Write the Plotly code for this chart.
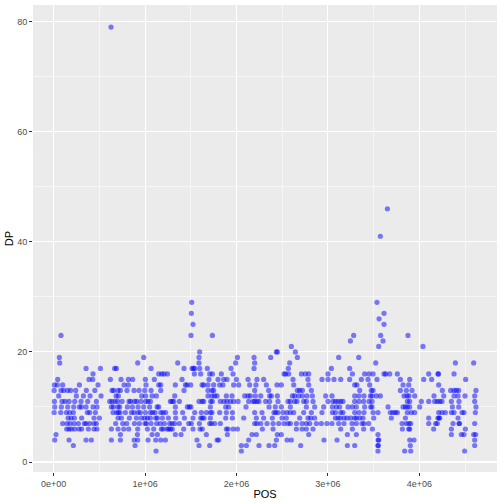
import plotly.graph_objects as go

# Positions in kb (1 kb = 1e3 bp), grouped by read depth (DP)
dp_levels = [2, 3, 4, 5, 6, 7, 8, 9, 10, 11, 12, 13, 14, 15, 16, 17, 18, 19,
             20, 21, 22, 23, 25, 26, 27, 29, 41, 46, 79]

pos_dp79 = [627]
pos_dp46 = [3651]
pos_dp41 = [3574]
pos_dp29 = [1510, 3537]
pos_dp27 = [1506, 3614]
pos_dp26 = [3560]
pos_dp25 = [1524, 3614]
pos_dp23 = [80, 1502, 1736, 3282, 3577, 3876]
pos_dp22 = [3246, 3603]
pos_dp21 = [2600, 3556, 4040]
pos_dp20 = [1597, 2436, 2447, 2644]
pos_dp19 = [62, 985, 1590, 2010, 2192, 2374, 2666, 3118, 3337]
pos_dp18 = [66, 919, 1357, 1590, 1991, 2199, 2582, 3523, 4395, 4595]
pos_dp17 = [354, 511, 667, 686, 1065, 1426, 1514, 1528, 1543, 1597, 1681, 1940,
            2192, 2567, 3038, 3238]
pos_dp16 = [430, 1149, 1182, 1207, 1244, 1539, 1608, 1707, 1736, 1834, 1962, 2520,
            2538, 2571, 2710, 2753, 2790, 3001, 3268, 3402, 3450, 3494, 3614, 3632,
            3676, 3760, 4103, 4204, 4210, 4380]
pos_dp15 = [44, 386, 427, 620, 737, 817, 864, 1003, 1101, 1404, 1699, 1798, 1860,
            1896, 1999, 2126, 2224, 2297, 2618, 2782, 2935, 3001, 3067, 3140, 3238,
            3366, 3439, 3537, 3793, 3895, 4048, 4135, 4507]
pos_dp14 = [8, 40, 98, 281, 485, 770, 817, 1010, 1149, 1171, 1331, 1441, 1459, 1499,
            1623, 1641, 1688, 1750, 1816, 1852, 1969, 2024, 2144, 2213, 2327, 2443,
            2491, 2626, 2790, 3293, 3318, 3457, 3822, 3884, 4212]
pos_dp13 = [5, 80, 109, 153, 186, 241, 357, 450, 638, 656, 704, 730, 802, 879, 934,
            996, 1065, 1171, 1426, 1688, 1732, 1750, 2199, 2352, 2666, 2691, 2721,
            2819, 3348, 3475, 3494, 3793, 3858, 3920, 4252, 4343, 4380, 4405, 4431, 4620]
pos_dp12 = [55, 248, 325, 398, 518, 682, 708, 963, 1006, 1076, 1123, 1324, 1688, 1732,
            1761, 1787, 1889, 1951, 2090, 2126, 2152, 2206, 2265, 2363, 2381, 2447,
            2611, 2637, 2680, 2721, 2771, 2830, 2976, 3045, 3293, 3340, 3395, 3465,
            3483, 3530, 3574, 3833, 3866, 3887, 3950, 4161, 4267, 4380, 4424, 4500, 4606]
pos_dp11 = [8, 91, 124, 168, 230, 299, 372, 467, 613, 638, 671, 700, 748, 824, 842,
            886, 908, 955, 1006, 1032, 1058, 1277, 1295, 1313, 1375, 1590, 1623, 1641,
            1718, 1736, 1823, 1863, 1896, 1933, 1969, 2017, 2133, 2181, 2199, 2224,
            2246, 2319, 2363, 2454, 2564, 2589, 2637, 2662, 2735, 2764, 2837, 3001,
            3056, 3082, 3111, 3140, 3165, 3293, 3340, 3391, 3450, 3483, 3869, 3895,
            4022, 4103, 4168, 4197, 4223, 4248, 4351, 4434, 4606]
pos_dp10 = [11, 84, 153, 219, 281, 303, 354, 430, 474, 631, 653, 704, 722, 806, 861,
            923, 985, 1050, 1131, 1149, 1331, 1462, 1484, 1502, 1714, 1882, 1915, 2104,
            2356, 2425, 2491, 2589, 2764, 2855, 2954, 3049, 3093, 3129, 3220, 3268,
            3311, 3402, 3468, 3483, 3658, 3822, 3848, 3869, 3895, 4004, 4362, 4431, 4620]
pos_dp9 = [5, 77, 139, 175, 215, 368, 394, 456, 649, 689, 708, 726, 784, 850, 879,
           923, 948, 1003, 1058, 1083, 1109, 1171, 1196, 1225, 1331, 1411, 1543, 1615,
           1670, 1714, 1732, 1816, 1889, 1955, 2199, 2279, 2410, 2429, 2454, 2509,
           2553, 2589, 2626, 2735, 2819, 2935, 3049, 3082, 3140, 3165, 3293, 3340,
           3395, 3494, 3548, 3683, 3712, 3738, 3760, 3869, 3913, 3950, 4212, 4248,
           4285, 4351, 4380, 4467, 4489, 4613]
pos_dp8 = [157, 190, 226, 306, 441, 500, 704, 741, 828, 905, 959, 996, 1025, 1058,
           1116, 1134, 1189, 1255, 1335, 1430, 1524, 1608, 1626, 1645, 1714, 1882,
           1955, 2079, 2217, 2297, 2392, 2498, 2545, 2691, 2782, 2812, 2855, 3082,
           3111, 3137, 3176, 3209, 3249, 3293, 3311, 3348, 3384, 3501, 3694, 3848,
           4103, 4204, 4215, 4223, 4424]
pos_dp7 = [98, 146, 179, 223, 270, 336, 354, 394, 441, 467, 678, 755, 799, 883, 937,
           999, 1014, 1065, 1127, 1167, 1211, 1269, 1295, 1324, 1375, 1477, 1506, 1594,
           1707, 1725, 1761, 1823, 2199, 2224, 2265, 2334, 2400, 2462, 2520, 2564,
           2589, 2655, 2717, 2764, 2801, 2874, 2928, 2990, 3045, 3118, 3176, 3264,
           3311, 3373, 3395, 3446, 3811, 3858, 3887, 3906, 4103, 4179, 4197, 4369,
           4434, 4440, 4606]
pos_dp6 = [142, 168, 193, 230, 277, 306, 379, 441, 474, 631, 704, 766, 821, 919, 1025,
           1094, 1178, 1196, 1240, 1258, 1277, 1298, 1422, 1524, 1601, 1626, 1889, 1907,
           1962, 2010, 2283, 2400, 2655, 2717, 2764, 2837, 3140, 3268, 3391, 3487,
           3815, 3884, 3895, 4157, 4351, 4504]
pos_dp5 = [25, 730, 916, 1076, 1134, 1331, 1393, 1670, 1900, 2170, 2217, 2447, 2491,
           2790, 3213, 3311, 3548, 4351, 4460, 4489, 4595, 4617]
pos_dp4 = [11, 168, 354, 412, 631, 730, 880, 919, 1032, 1116, 1171, 1222, 1568, 1787,
           1805, 2133, 2436, 2553, 2600, 2957, 3100, 3550, 3556, 3895, 3942, 4606]
pos_dp3 = [215, 890, 1590, 1707, 2053, 2108, 2246, 2356, 2418, 2702, 3213, 3293, 3548,
           3550, 3902, 4606]
pos_dp2 = [1120, 2053, 3548, 3840, 3906, 4496]

x_tick_vals = [0, 1000, 2000, 3000, 4000]
x_tick_text = ["0e+00", "1e+06", "2e+06", "3e+06", "4e+06"]
y_tick_vals = [0, 20, 40, 60, 80]

groups = {
    2: pos_dp2, 3: pos_dp3, 4: pos_dp4, 5: pos_dp5, 6: pos_dp6, 7: pos_dp7,
    8: pos_dp8, 9: pos_dp9, 10: pos_dp10, 11: pos_dp11, 12: pos_dp12,
    13: pos_dp13, 14: pos_dp14, 15: pos_dp15, 16: pos_dp16, 17: pos_dp17,
    18: pos_dp18, 19: pos_dp19, 20: pos_dp20, 21: pos_dp21, 22: pos_dp22,
    23: pos_dp23, 25: pos_dp25, 26: pos_dp26, 27: pos_dp27, 29: pos_dp29,
    41: pos_dp41, 46: pos_dp46, 79: pos_dp79,
}

xs, ys = [], []
for lvl in dp_levels:
    for p in groups[lvl]:
        xs.append(p)
        ys.append(lvl)

fig = go.Figure(go.Scatter(
    x=xs, y=ys, mode="markers",
    marker=dict(color="rgba(0,0,255,0.5)", size=5.2, line=dict(width=0)),
    hoverinfo="skip",
))

font_family = "Liberation Sans, Arial, Helvetica, sans-serif"
fig.update_layout(
    width=504, height=504,
    margin=dict(l=33, r=7, t=5, b=32),
    plot_bgcolor="#EBEBEB", paper_bgcolor="white",
    showlegend=False,
    font=dict(family=font_family, color="black"),
)
common = dict(
    ticks="outside", ticklen=3, tickwidth=1, tickcolor="#333333",
    tickfont=dict(size=9, color="#4D4D4D", family=font_family),
    showgrid=True, gridcolor="white", gridwidth=1.1,
    zeroline=False, showline=False, automargin=False,
)
fig.update_xaxes(
    range=[-226.5, 4850],
    tickmode="array", tickvals=x_tick_vals, ticktext=x_tick_text,
    minor=dict(tickmode="array", tickvals=[500, 1500, 2500, 3500, 4500],
               showgrid=True, gridcolor="white", gridwidth=0.55, ticklen=0),
    title=dict(text="POS", font=dict(size=11, color="black"), standoff=2),
    **common,
)
fig.update_yaxes(
    range=[-1.81, 83.0],
    tickmode="array", tickvals=y_tick_vals, ticktext=[str(v) for v in y_tick_vals],
    minor=dict(tickmode="array", tickvals=[10, 30, 50, 70],
               showgrid=True, gridcolor="white", gridwidth=0.55, ticklen=0),
    title=dict(text="DP", font=dict(size=11, color="black"), standoff=1),
    **common,
)

fig.write_html(
    "out.html",
    config={"displayModeBar": False, "staticPlot": True},
    post_script="document.body.style.margin='0';document.body.style.padding='0';",
)
